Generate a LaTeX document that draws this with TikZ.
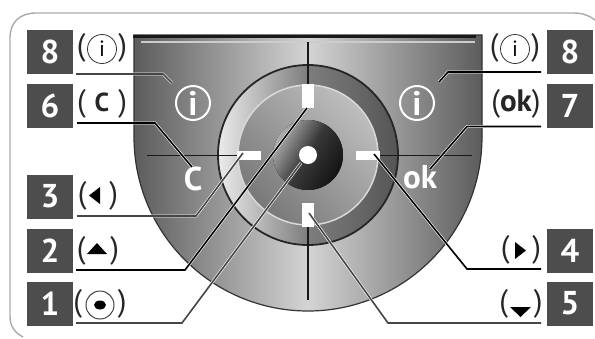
\documentclass[tikz,border=0pt]{standalone}
\usepackage{fontspec}
\setmainfont{PT Sans}
\definecolor{keyBox}{RGB}{77, 77, 77}
\definecolor{frameLine}{RGB}{170, 170, 170}
\definecolor{bodyDark}{RGB}{92, 92, 92}
\definecolor{bodyLight}{RGB}{212, 212, 212}
\definecolor{ringLight}{RGB}{235, 235, 235}
\definecolor{ringMid}{RGB}{125, 125, 125}
\definecolor{ringDark}{RGB}{85, 85, 85}
\definecolor{discDark}{RGB}{120, 120, 120}
\definecolor{discLight}{RGB}{190, 190, 190}
\definecolor{hubLight}{RGB}{175, 175, 175}
\definecolor{hubMid}{RGB}{55, 55, 55}
\definecolor{hubDark}{RGB}{20, 20, 20}
\definecolor{leadGray}{RGB}{70, 70, 70}
\newcommand{\fs}[1]{\fontsize{#1}{#1}\selectfont}
\tikzset{
  numbox/.style={fill=keyBox, text=white, font=\fs{33}\bfseries, minimum width=46pt, minimum height=44pt, inner sep=0pt},
  paren/.style={font=\fs{31}, inner sep=0pt, text=black!85},
  softkey/.style={font=\fs{33}\bfseries, text=white, inner sep=0pt},
  infobig/.style={circle, draw=white, line width=2pt, minimum size=34pt, inner sep=0pt, text=white, font=\fs{34}\bfseries},
  infosmall/.style={circle, draw=black!80, line width=0.8pt, minimum size=29pt, inner sep=0pt, font=\fs{22}},
  lead/.style={line width=1.6pt, black, preaction={draw=white, line width=2.8pt}},
  leadsoft/.style={line width=1.6pt, leadGray, preaction={draw=white, line width=2.8pt}},
  tick/.style={fill=white, inner sep=0pt}
}

\begin{document}
\begin{tikzpicture}[x=1pt, y=-1pt]
  \useasboundingbox (0,0) rectangle (595,338);
  \draw[frameLine, line width=1.4pt] (23,337) .. controls (14,332) and (10,326) .. (10,316)
       -- (10,38) .. controls (10,22) and (20,13) .. (36,13) -- (574,13) .. controls (583,13) and (590,16) .. (595,20);

  % body and wheel
  \draw[black!80, line width=1.2pt, left color=bodyDark, right color=bodyDark, middle color=bodyLight]
       (134,35) -- (134,137) arc[start angle=180, end angle=0, radius=174] -- (482,35) -- cycle;
  \draw[black!90, line width=3pt] (133,36) -- (476,36);
  \draw[black!20, line width=2pt] (141,42) -- (475,42);
  \draw[black!85, line width=1.8pt, left color=ringLight, right color=ringDark, middle color=ringMid]
       (308,155) circle[radius=90];
  \draw[black!90, line width=2.5pt] (308,42) -- (308,86);
  \draw[black!90, line width=2.5pt] (308,224) -- (308,300);
  \draw[black!90, line width=1pt] (147,155) -- (238,155);
  \draw[black!90, line width=1pt] (378,155) -- (472,155);
  \draw[white!85!black, line width=1.5pt, left color=discDark, right color=discLight, shading angle=135]
       (308,155) circle[radius=70];
  \fill[left color=hubLight, right color=hubDark, middle color=hubMid, shading angle=60]
       (308,155) circle[radius=35];
  \node[circle, fill=white, minimum size=18pt, inner sep=0pt] (hub) at (308,155) {};
  \node[tick, minimum width=12pt, minimum height=24pt] (tickN) at (308,96) {};
  \node[tick, minimum width=12pt, minimum height=24pt] (tickS) at (308,214.5) {};
  \node[tick, minimum width=24pt, minimum height=9pt] (tickW) at (248.5,155.5) {};
  \node[tick, minimum width=24pt, minimum height=9pt] (tickE) at (368,155.5) {};

  \node[infobig] (infoL) at (193,103) {i};
  \node[infobig] (infoR) at (417,103) {i};
  \node[softkey] (keyC) at (193,179) {C};
  \node[softkey] (keyOk) at (420,177) {ok};

  % number boxes
  \node[numbox] (n8L) at (50,52) {8};
  \node[numbox] (n6) at (50,106) {6};
  \node[numbox] (n3) at (50,196.5) {3};
  \node[numbox] (n2) at (50,250.5) {2};
  \node[numbox] (n1) at (50,303.5) {1};
  \node[numbox] (n8R) at (570,52) {8};
  \node[numbox] (n7) at (570,106) {7};
  \node[numbox] (n4) at (570,250.5) {4};
  \node[numbox] (n5) at (570,303.5) {5};

  % key symbols
  \node[paren] (symInfoL) at (102,48) {(\hspace{33pt})};
  \node[infosmall] (icoL) at (102,49) {i};
  \node[paren] (symC) at (102,104) {(\hspace{9pt}\textbf{\fs{26}C}\hspace{9pt})};
  \node[paren] (symLeft) at (98,196) {(\hspace{23pt})};
  \fill[black] (100,187) -- (100,204) -- (89,195.5) -- cycle;
  \node[paren] (symUp) at (98,251) {(\hspace{25pt})};
  \fill[black] (97,243) -- (107,254) -- (87,254) -- cycle;
  \node[paren] (symCam) at (100,304) {(\hspace{36pt})};
  \node[circle, draw=black!75, line width=1pt, minimum size=28pt, inner sep=0pt] (camRing) at (100,305) {};
  \fill[black] (100,305) ellipse[x radius=6, y radius=4.5];
  \node[paren] (symInfoR) at (515,48) {(\hspace{33pt})};
  \node[infosmall] (icoR) at (515,49) {i};
  \node[paren] (symOk) at (516,104) {(\textbf{ok})};
  \node[paren] (symRight) at (521,250) {(\hspace{23pt})};
  \fill[black] (515,242) -- (515,259) -- (526,250.5) -- cycle;
  \node[paren] (symDown) at (521,304) {(\hspace{26pt})};
  \fill[black] (510,307) -- (531,307) -- (520.5,317) -- cycle;

  % leaders
  \coordinate (a8L) at (76,74);
  \coordinate (b8L) at (163,74);
  \coordinate (c8L) at (172,83);
  \coordinate (a6) at (77,123);
  \coordinate (b6) at (155,123);
  \coordinate (c6) at (192,167);
  \coordinate (a3) at (77,216);
  \coordinate (b3) at (196,216);
  \coordinate (c3) at (243,153);
  \coordinate (a2) at (76,270);
  \coordinate (b2) at (185,270);
  \coordinate (c2) at (307,108);
  \coordinate (a1) at (76,323);
  \coordinate (b1) at (182,323);
  \coordinate (c1) at (301,163);
  \coordinate (a8R) at (541,72);
  \coordinate (b8R) at (448,72);
  \coordinate (c8R) at (439,82);
  \coordinate (a7) at (541,126.5);
  \coordinate (b7) at (467,126.5);
  \coordinate (c7) at (430,169);
  \coordinate (a4) at (541,269);
  \coordinate (b4) at (467,269);
  \coordinate (c4) at (374,154);
  \coordinate (a5) at (541,323);
  \coordinate (b5) at (388,323);
  \coordinate (c5) at (309,213);
  \draw[leadsoft] (a8L) -- (b8L) -- (c8L);
  \draw[lead] (a6) -- (b6) -- (c6);
  \draw[leadsoft] (a3) -- (b3) -- (c3);
  \draw[lead] (a2) -- (b2) -- (c2);
  \draw[leadsoft] (a1) -- (b1) -- (c1);
  \draw[lead] (a8R) -- (b8R) -- (c8R);
  \draw[lead] (a7) -- (b7) -- (c7);
  \draw[lead] (a4) -- (b4) -- (c4);
  \draw[leadsoft] (a5) -- (b5) -- (c5);
\end{tikzpicture}
\end{document}
